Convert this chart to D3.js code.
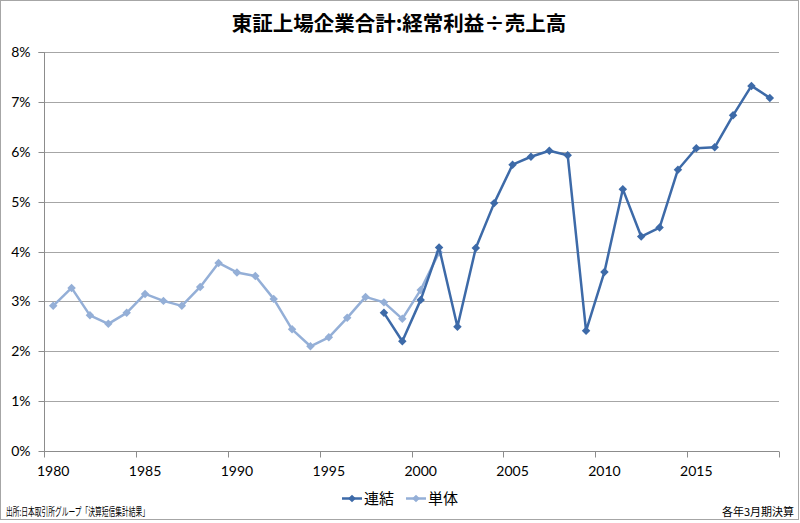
<!DOCTYPE html>
<html><head><meta charset="utf-8">
<script src="https://cdn.jsdelivr.net/npm/d3@7"></script>
<style>body{margin:0;background:#fff}svg{display:block}</style>
</head><body>
<svg id="c" width="800" height="523"></svg>
<script>
const years = d3.range(1980, 2020);
const tanYears = d3.range(1980, 2002);
const tanValues = [2.91,3.27,2.72,2.55,2.77,3.15,3.01,2.91,3.29,3.77,3.58,3.51,3.05,2.44,2.10,2.28,2.67,3.09,2.98,2.65,3.23,3.98];
const renYears = d3.range(1998, 2020);
const renValues = [2.77,2.20,3.03,4.08,2.49,4.07,4.97,5.74,5.90,6.02,5.93,2.41,3.59,5.25,4.30,4.48,5.64,6.07,6.09,6.73,7.32,7.08];
const yTicks = [0,1,2,3,4,5,6,7,8];
const xLabelYears = [1980,1985,1990,1995,2000,2005,2010,2015];
const title = "東証上場企業合計:経常利益÷売上高";
const seriesNames = ["連結","単体"];
const sourceText = "出所:日本取引所グループ「決算短信集計結果」";
const noteText = "各年3月期決算";

const svg = d3.select("#c");
const L = 44, R = 779, T = 52, B = 451;
const dark = "#3d6aa8", light = "#94afd7";

svg.append("rect").attr("x",0.5).attr("y",0.5).attr("width",798).attr("height",519)
  .attr("fill","#fff").attr("stroke","#a6a6a6");

const x = d3.scaleBand().domain(years).range([L, R]);
const y = d3.scaleLinear().domain([0, 8]).range([B, T]);
const cx = yr => x(yr) + x.bandwidth()/2;

// gridlines
svg.append("g").selectAll("line").data(yTicks.filter(d=>d>0)).join("line")
  .attr("x1",L).attr("x2",R).attr("y1",d=>Math.round(y(d))+0.5).attr("y2",d=>Math.round(y(d))+0.5)
  .attr("stroke","#a6a6a6").attr("stroke-width",1);

// y axis
const yAxis = d3.axisLeft(y).tickValues(yTicks).tickFormat(d=>d+"%").tickSize(6).tickPadding(8);
const gy = svg.append("g").attr("transform",`translate(${L+0.5},0.5)`).call(yAxis);
gy.select(".domain").attr("stroke","#8c8c8c").attr("d",`M-6,${T}H0V${B}`);
gy.selectAll(".tick line").attr("stroke","#8c8c8c");
gy.selectAll(".tick").attr("transform", d=>`translate(0,${Math.round(y(d))})`);
gy.selectAll("text").attr("font-family","Lato").attr("font-size","14px").attr("fill","#000").attr("dy","0.34em");

// x axis
const gx = svg.append("g").attr("transform",`translate(0,${B+0.5})`);
gx.append("line").attr("x1",L).attr("x2",R).attr("stroke","#8c8c8c");
const tickPos = years.filter((d,i)=>i%5===0).map(d=>x(d)).concat([R]);
gx.selectAll("line.t").data(tickPos).join("line").attr("class","t")
  .attr("x1",d=>Math.round(d)+0.5).attr("x2",d=>Math.round(d)+0.5).attr("y1",0).attr("y2",6)
  .attr("stroke","#8c8c8c");
gx.selectAll("text").data(xLabelYears).join("text")
  .attr("x",d=>cx(d)).attr("y",24).attr("text-anchor","middle")
  .attr("font-family","Lato").attr("font-size","14px").attr("fill","#000").text(d=>d);

// series
const line = d3.line().x(d=>cx(d[0])).y(d=>y(d[1]));
const marker = d3.symbol().type(d3.symbolSquare).size(36);
function drawSeries(ys, vs, color){
  const data = ys.map((yr,i)=>[yr, vs[i]]);
  const g = svg.append("g");
  g.append("path").datum(data).attr("d",line).attr("fill","none")
    .attr("stroke",color).attr("stroke-width",2.5).attr("stroke-linejoin","round");
  g.selectAll("path.m").data(data).join("path").attr("class","m")
    .attr("d", marker)
    .attr("transform",d=>`translate(${cx(d[0])},${y(d[1])}) rotate(45)`).attr("fill",color);
}
drawSeries(tanYears, tanValues, light);
drawSeries(renYears, renValues, dark);

// title
svg.append("text").attr("x",399).attr("y",31).attr("text-anchor","middle")
  .attr("font-family","'Noto Sans CJK JP'").attr("font-weight","bold").attr("font-size","20.5px")
  .attr("fill","#000").text(title);

// legend
const lg = svg.append("g");
const items = [{name:seriesNames[0], color:dark, x:342},{name:seriesNames[1], color:light, x:406}];
items.forEach(it=>{
  lg.append("line").attr("x1",it.x).attr("x2",it.x+20).attr("y1",498.5).attr("y2",498.5)
    .attr("stroke",it.color).attr("stroke-width",2.5);
  lg.append("path").attr("d", d3.symbol().type(d3.symbolSquare).size(30))
    .attr("transform",`translate(${it.x+10},498.5) rotate(45)`).attr("fill",it.color);
  lg.append("text").attr("x",it.x+22).attr("y",504).attr("font-family","'Noto Sans CJK JP'")
    .attr("font-size","15px").attr("fill","#000").text(it.name);
});

// footer
svg.append("text").attr("x",6).attr("y",516).attr("font-family","'Noto Sans CJK JP'")
  .attr("font-size","11px").attr("fill","#000").attr("textLength",143).attr("lengthAdjust","spacingAndGlyphs")
  .text(sourceText);
svg.append("text").attr("x",794).attr("y",516).attr("text-anchor","end").attr("font-family","'Noto Sans CJK JP'")
  .attr("font-size","11px").attr("fill","#000").text(noteText);
</script>
</body></html>
